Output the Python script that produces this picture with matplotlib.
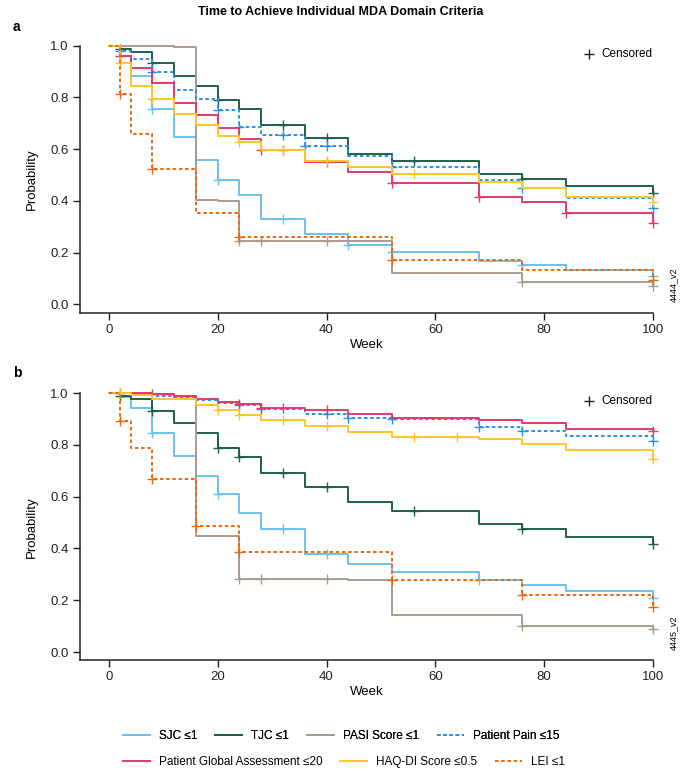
import numpy as np
import matplotlib
matplotlib.use("Agg")
import matplotlib.pyplot as plt
from matplotlib.lines import Line2D

plt.rcParams['font.family'] = ['Liberation Sans', 'DejaVu Sans']

# ---- data ----
LABELS = ["SJC \u22641", "TJC \u22641", "PASI Score \u22641", "Patient Pain \u226415",
          "Patient Global Assessment \u226420", "HAQ-DI Score \u22640.5", "LEI \u22641"]
COLORS = ["#6cc0ec", "#1e5e4e", "#ab9c8e", "#2b8fe3", "#e23a6e", "#fcc62a", "#e8690f"]
DOTTED = [False, False, False, True, False, False, True]

WEEKS = [0, 2, 4, 8, 12, 16, 20, 24, 28, 36, 44, 52, 68, 76, 84, 100]

# panel a
sjc_a_t = WEEKS
sjc_a_s = [1.0, 0.96, 0.884, 0.755, 0.646, 0.557, 0.479, 0.423, 0.329, 0.274, 0.229, 0.202, 0.167, 0.151, 0.133, 0.109]
tjc_a_t = WEEKS
tjc_a_s = [1.0, 0.987, 0.976, 0.934, 0.882, 0.843, 0.790, 0.754, 0.693, 0.642, 0.581, 0.554, 0.504, 0.486, 0.457, 0.429]
pasi_a_t = [0, 12, 16, 20, 24, 52, 76, 100]
pasi_a_s = [1.0, 0.995, 0.403, 0.398, 0.246, 0.120, 0.086, 0.071]
pain_a_t = WEEKS
pain_a_s = [1.0, 0.978, 0.950, 0.897, 0.830, 0.795, 0.750, 0.684, 0.655, 0.613, 0.575, 0.532, 0.479, 0.450, 0.412, 0.374]
pga_a_t = WEEKS
pga_a_s = [1.0, 0.959, 0.913, 0.854, 0.777, 0.731, 0.682, 0.639, 0.595, 0.551, 0.513, 0.468, 0.416, 0.397, 0.352, 0.316]
haq_a_t = WEEKS
haq_a_s = [1.0, 0.933, 0.845, 0.794, 0.737, 0.692, 0.650, 0.629, 0.597, 0.555, 0.530, 0.503, 0.474, 0.450, 0.416, 0.397]
lei_a_t = [0, 2, 4, 8, 16, 24, 52, 76, 100]
lei_a_s = [1.0, 0.812, 0.657, 0.523, 0.354, 0.261, 0.171, 0.133, 0.094]

cens_a = [
    [2, 8, 20, 32, 44, 52, 76, 100],
    [2, 8, 20, 32, 40, 56, 76, 100],
    [24, 28, 40, 76, 100],
    [2, 8, 20, 24, 32, 36, 40, 52, 76, 100],
    [2, 28, 32, 40, 52, 68, 84, 100],
    [2, 8, 24, 32, 40, 56, 100],
    [2, 8, 24, 52, 100],
]

# panel b
sjc_b_t = WEEKS
sjc_b_s = [1.0, 0.986, 0.941, 0.844, 0.757, 0.680, 0.609, 0.535, 0.474, 0.380, 0.341, 0.309, 0.278, 0.260, 0.236, 0.207]
tjc_b_t = WEEKS
tjc_b_s = [1.0, 0.988, 0.976, 0.932, 0.883, 0.844, 0.788, 0.752, 0.690, 0.638, 0.579, 0.546, 0.494, 0.476, 0.445, 0.417]
pasi_b_t = [0, 8, 12, 16, 20, 24, 44, 52, 76, 100]
pasi_b_s = [1.0, 0.997, 0.99, 0.450, 0.447, 0.281, 0.278, 0.145, 0.100, 0.088]
pain_b_t = [0, 4, 8, 12, 16, 20, 24, 28, 36, 44, 52, 68, 76, 84, 100]
pain_b_s = [1.0, 0.995, 0.99, 0.985, 0.973, 0.960, 0.954, 0.938, 0.918, 0.902, 0.898, 0.870, 0.855, 0.835, 0.815]
pga_b_t = [0, 8, 12, 16, 20, 24, 28, 36, 44, 52, 68, 76, 84, 100]
pga_b_s = [1.0, 0.995, 0.988, 0.977, 0.967, 0.958, 0.941, 0.934, 0.921, 0.905, 0.897, 0.884, 0.862, 0.855]
haq_b_t = [0, 4, 8, 16, 20, 24, 28, 36, 44, 52, 68, 76, 84, 100]
haq_b_s = [1.0, 0.992, 0.976, 0.954, 0.934, 0.916, 0.896, 0.873, 0.848, 0.830, 0.821, 0.803, 0.780, 0.745]
lei_b_t = [0, 2, 4, 8, 16, 24, 52, 76, 100]
lei_b_s = [1.0, 0.892, 0.786, 0.669, 0.486, 0.387, 0.277, 0.221, 0.173]

cens_b = [
    [8, 20, 32, 40, 68, 100],
    [2, 8, 20, 24, 32, 40, 56, 76, 100],
    [24, 28, 40, 76, 100],
    [2, 24, 28, 40, 44, 52, 68, 76, 100],
    [8, 24, 28, 32, 40, 100],
    [2, 20, 24, 32, 40, 56, 64, 100],
    [2, 8, 16, 24, 52, 76, 100],
]

panel_a = [(sjc_a_t, sjc_a_s), (tjc_a_t, tjc_a_s), (pasi_a_t, pasi_a_s), (pain_a_t, pain_a_s),
           (pga_a_t, pga_a_s), (haq_a_t, haq_a_s), (lei_a_t, lei_a_s)]
panel_b = [(sjc_b_t, sjc_b_s), (tjc_b_t, tjc_b_s), (pasi_b_t, pasi_b_s), (pain_b_t, pain_b_s),
           (pga_b_t, pga_b_s), (haq_b_t, haq_b_s), (lei_b_t, lei_b_s)]

DASH = (0, (1.8, 1.4))


def km_at(t, s, x):
    idx = np.searchsorted(t, x, side="right") - 1
    return np.asarray(s)[idx]


def draw_panel(ax, series, cens, tag):
    for i, (t, s) in enumerate(series):
        ls = DASH if DOTTED[i] else "-"
        ax.step(t, s, where="post", color=COLORS[i], lw=1.4, ls=ls, clip_on=False)
        ct = np.asarray(cens[i])
        ax.plot(ct, km_at(t, s, ct), ls="none", marker="+", ms=7, mew=1.0,
                color=COLORS[i], clip_on=False)
    ax.set_xlim(-5.3, 100)
    ax.set_ylim(-0.032, 1.0)
    ax.set_xticks(range(0, 101, 20))
    ax.set_yticks(np.arange(0, 1.01, 0.2))
    ax.set_yticklabels([f"{v:.1f}" for v in np.arange(0, 1.01, 0.2)])
    for sp in ("top", "right"):
        ax.spines[sp].set_visible(False)
    for sp in ("left", "bottom"):
        ax.spines[sp].set_linewidth(1.1)
        ax.spines[sp].set_color("#222222")
    ax.tick_params(direction="out", length=5, width=1.0, pad=3, labelsize=9.5, colors="#222222")
    ax.set_xlabel("Week", fontsize=9.5, labelpad=2)
    ax.set_ylabel("Probability", fontsize=9.5, labelpad=9)
    # censored key
    ax.plot([88.2], [0.968], marker="+", ms=7, mew=1.0, color="#222222", clip_on=False)
    ax.text(90.6, 0.968, "Censored", fontsize=8.5, va="center", ha="left")
    ax.text(1.035, 0.04, tag, transform=ax.transAxes, rotation=90, fontsize=6.5,
            va="bottom", ha="center")


fig = plt.figure(figsize=(6.85, 7.74), dpi=100)
ax_a = fig.add_axes([0.1168, 0.596, 0.8365, 0.345])
ax_b = fig.add_axes([0.1168, 0.1468, 0.8365, 0.3454])
draw_panel(ax_a, panel_a, cens_a, "4444_v2")
draw_panel(ax_b, panel_b, cens_b, "4445_v2")

fig.text(0.497, 0.984, "Time to Achieve Individual MDA Domain Criteria",
         ha="center", va="center", fontsize=9, fontweight="bold")
fig.text(0.019, 0.965, "a", fontsize=10, fontweight="bold", va="center")
fig.text(0.019, 0.518, "b", fontsize=10, fontweight="bold", va="center")

handles = [Line2D([], [], color=COLORS[i], lw=1.4, ls=(DASH if DOTTED[i] else "-"))
           for i in range(len(LABELS))]
leg_kw = dict(frameon=False, fontsize=8.5, handlelength=2.3, handletextpad=0.75,
              columnspacing=1.5, borderpad=0, borderaxespad=0, loc="center left")
leg1 = fig.legend(handles[:4], LABELS[:4], ncol=4, bbox_to_anchor=(123 / 685, 1 - 736 / 774), **leg_kw)
fig.add_artist(leg1)
fig.legend(handles[4:], LABELS[4:], ncol=3, bbox_to_anchor=(123 / 685, 1 - 762 / 774), **leg_kw)

fig.savefig("out.png", dpi=100)
